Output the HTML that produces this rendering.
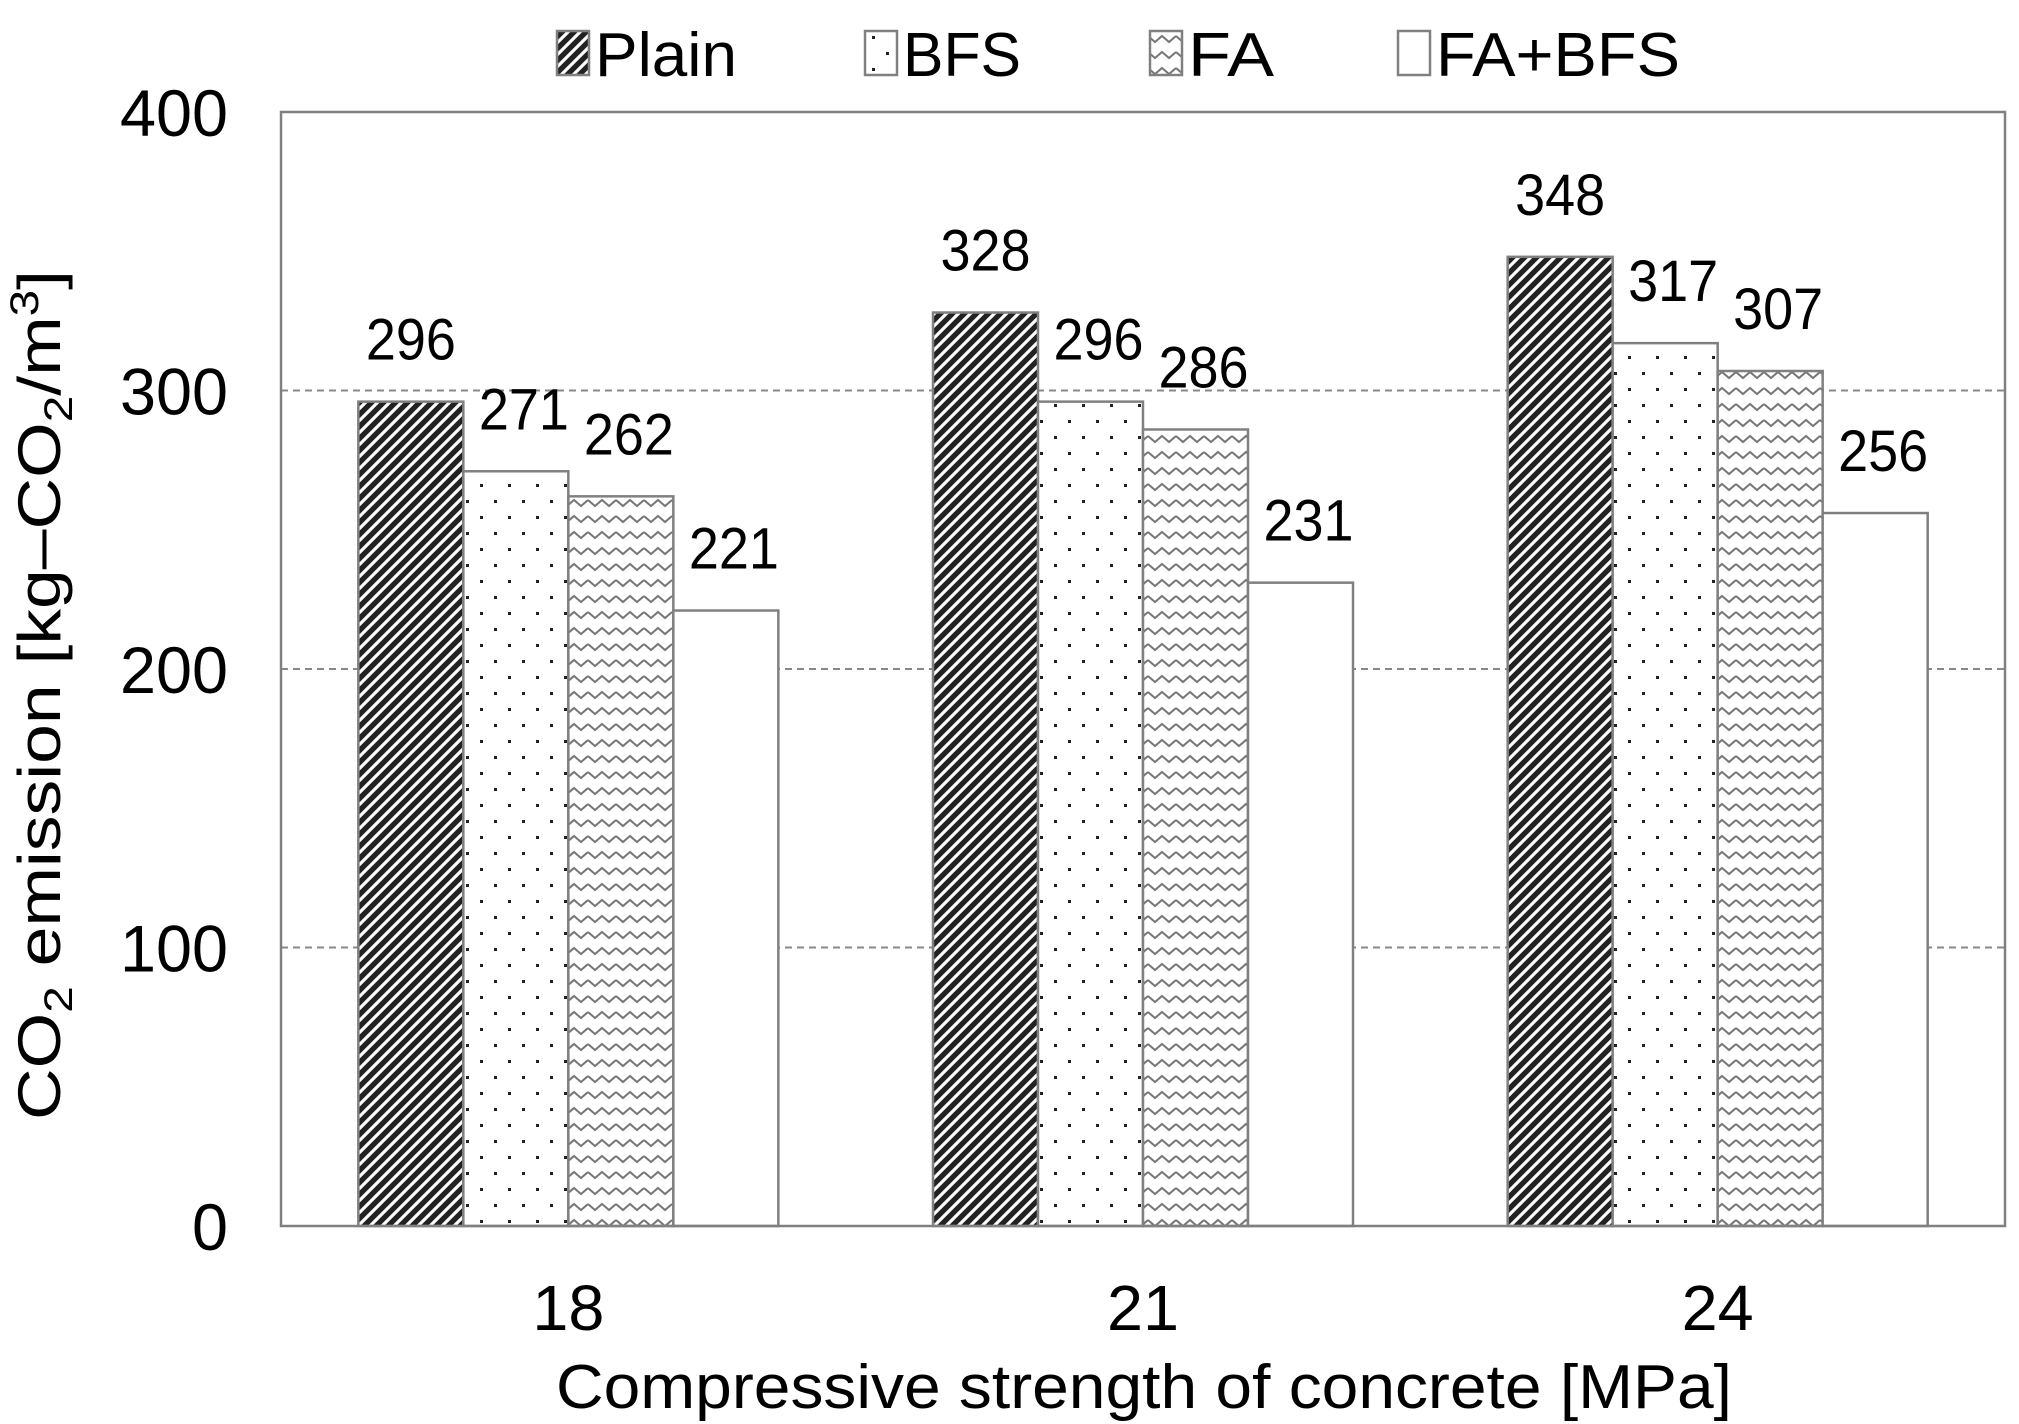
<!DOCTYPE html>
<html><head><meta charset="utf-8"><style>
html,body{margin:0;padding:0;background:#fff;}
svg{display:block;font-family:"Liberation Sans",sans-serif;}
</style></head><body>
<svg id="chart" width="2019" height="1424" viewBox="0 0 2019 1424">
<defs>
<pattern id="pPlain" patternUnits="userSpaceOnUse" width="12" height="12">
<rect width="12" height="12" fill="#222"/>
<path d="M-3,3 L3,-3 M0,12 L12,0 M9,15 L15,9" stroke="#fff" stroke-width="3.2"/>
</pattern>
<pattern id="pBFS" patternUnits="userSpaceOnUse" width="28" height="32">
<rect width="28" height="32" fill="#fff"/>
<rect x="4" y="4" width="3" height="3" fill="#222"/>
<rect x="18" y="20" width="3" height="3" fill="#222"/>
</pattern>
<pattern id="pFA" patternUnits="userSpaceOnUse" width="28" height="16">
<rect width="28" height="16" fill="#fff"/>
<path d="M0,4 L7,10 L14,4 L21,10 L28,4" fill="none" stroke="#777" stroke-width="2"/>
</pattern>
<pattern id="pFB" patternUnits="userSpaceOnUse" width="10" height="10">
<rect width="10" height="10" fill="#fff"/>
</pattern>
</defs>
<g id="grid"></g>
<g id="bars"></g>
<g id="labels"></g>
<rect x="281" y="112" width="1724" height="1114" fill="none" stroke="#808080" stroke-width="2.5"/>
<g id="yticks"></g>
<g id="xticks"></g>
<g id="legend"></g>
<text x="0" y="0" transform="translate(60,695) rotate(-90)" text-anchor="middle" font-size="60" textLength="850" lengthAdjust="spacingAndGlyphs">CO<tspan font-size="40" dy="12">2</tspan><tspan dy="-12"> emission [kg–CO</tspan><tspan font-size="40" dy="12">2</tspan><tspan dy="-12">/m</tspan><tspan font-size="40" dy="-22">3</tspan><tspan dy="22">]</tspan></text>
<text x="1144" y="1408" text-anchor="middle" font-size="62" textLength="1176" lengthAdjust="spacingAndGlyphs">Compressive strength of concrete [MPa]</text>
</svg>
<script>
const categories = ["18","21","24"];
const seriesNames = ["Plain","BFS","FA","FA+BFS"];
const plainVals = [296,328,348];
const bfsVals = [271,296,317];
const faVals = [262,286,307];
const fabfsVals = [221,231,256];
const yTicks = [0,100,200,300,400];
const series = [plainVals,bfsVals,faVals,fabfsVals];
const fills = ["url(#pPlain)","url(#pBFS)","url(#pFA)","url(#pFB)"];
const NS="http://www.w3.org/2000/svg";
const L=281,R=2005,T=112,B=1226;
const y = v => B - (v/400)*(B-T);
const gw=(R-L)/categories.length, bw=105;
const x = (ci,si) => L + gw*ci + gw/2 - 2*bw + si*bw;
function mk(tag,attrs,parent){const e=document.createElementNS(NS,tag);for(const k in attrs)e.setAttribute(k,attrs[k]);document.getElementById(parent).appendChild(e);return e;}
yTicks.forEach(t=>{
  if(t>0&&t<400){const g=mk('line',{x1:L,x2:R,y1:y(t),y2:y(t),stroke:'#888','stroke-width':2,'stroke-dasharray':'7,5'},'grid');
  
  }
  const s=String(t);
  const tx=mk('text',{x:228,y:y(t)+24,'text-anchor':'end','font-size':66,textLength:36*s.length,lengthAdjust:'spacingAndGlyphs'},'yticks');
  tx.textContent=t;
  
  
});
categories.forEach((c,ci)=>{
  const tx=mk('text',{x:L+gw*ci+gw/2,y:1330,'text-anchor':'middle','font-size':64,textLength:72,lengthAdjust:'spacingAndGlyphs'},'xticks');
  tx.textContent=c;
  
  
  series.forEach((vals,si)=>{
    const v=vals[ci];
    const r=mk('rect',{x:x(ci,si),y:y(v),width:bw,height:B-y(v),fill:fills[si],stroke:'#808080','stroke-width':2.5},'bars');
    
    
    const lb=mk('text',{x:x(ci,si)+bw/2+(si>0?8:0),y:y(v)-42,'text-anchor':'middle','font-size':58,textLength:90,lengthAdjust:'spacingAndGlyphs'},'labels');
    lb.textContent=v;
    
    
  });
});
const legX=[557,865,1150,1398];
const legW=[142,118,86,244];
seriesNames.forEach((n,i)=>{
  const b=mk('rect',{x:legX[i],y:31,width:32,height:44,fill:fills[i],stroke:'#808080','stroke-width':2.5},'legend');
  
  
  const t=mk('text',{x:legX[i]+38,y:76,'font-size':62,textLength:legW[i],lengthAdjust:'spacingAndGlyphs'},'legend');
  t.textContent=n;
  
  
});
</script>
</body></html>
